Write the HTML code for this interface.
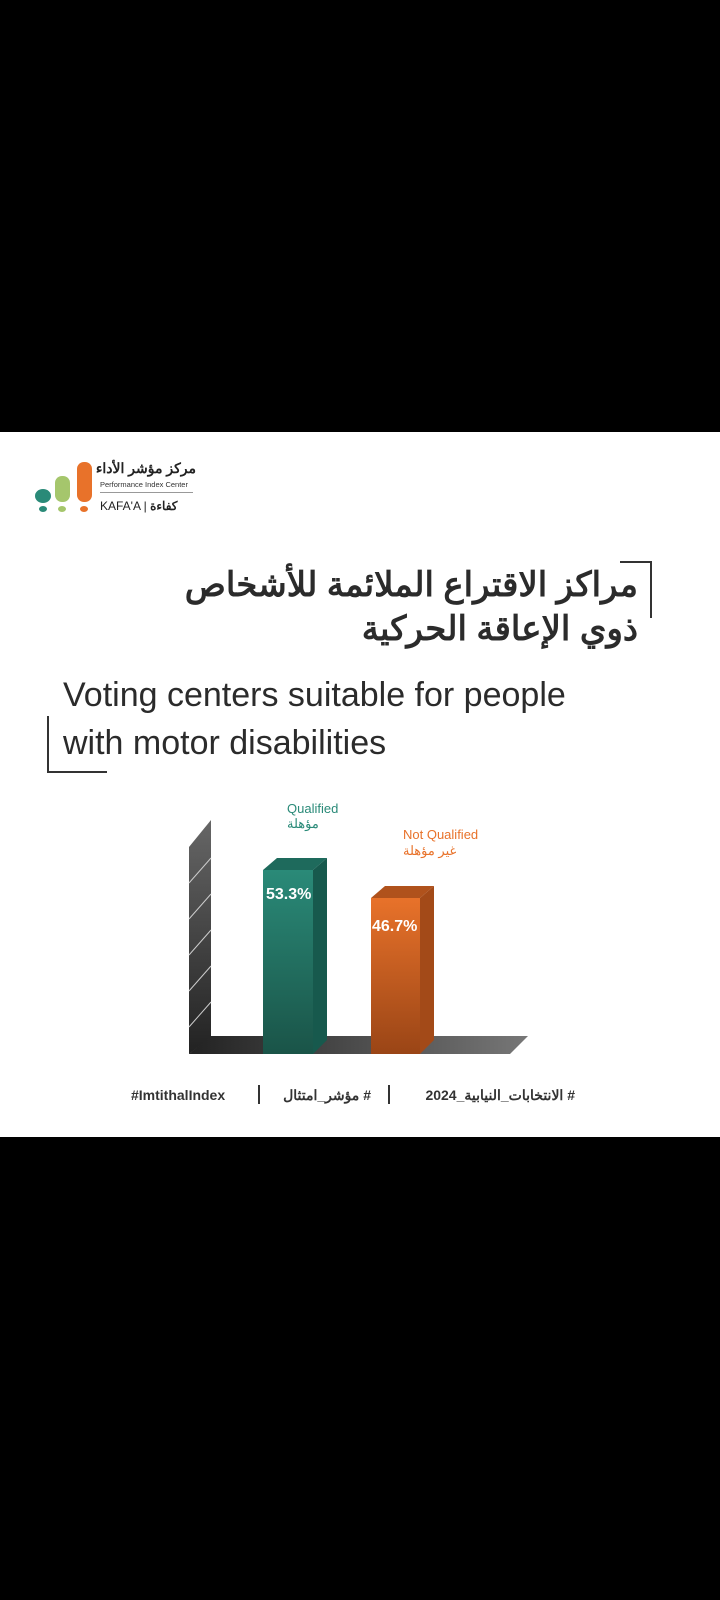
<!DOCTYPE html>
<html><head><meta charset="utf-8"><style>
body{margin:0;width:720px;height:1600px;background:#000;position:relative;overflow:hidden;font-family:"Liberation Sans","Noto Sans CJK SC",sans-serif}
.w{position:absolute;left:0;top:432px;width:720px;height:705px;background:#fff}
.a{position:absolute;white-space:nowrap}
</style></head><body>
<div class="w"></div>
<svg class="a" style="left:30px;top:458px" width="70" height="60">
<rect x="47" y="4" width="15" height="40" rx="7" fill="#e8722a"/>
<rect x="25" y="18" width="15" height="26" rx="7" fill="#a5c66c"/>
<ellipse cx="13" cy="38" rx="8" ry="7" fill="#2a8a78"/>
<ellipse cx="13" cy="51" rx="4" ry="3" fill="#2a8a78"/>
<ellipse cx="32" cy="51" rx="4" ry="3" fill="#a5c66c"/>
<ellipse cx="54" cy="51" rx="4" ry="3" fill="#e8722a"/>
</svg>
<div class="a" style="left:100px;top:460px;font-size:14px;font-weight:bold;color:#222;width:96px;text-align:right;direction:rtl">مركز مؤشر الأداء</div>
<div class="a" style="left:100px;top:480px;font-size:7.5px;color:#333">Performance Index Center</div>
<div class="a" style="left:100px;top:492px;width:93px;height:1px;background:#999"></div>
<div class="a" style="left:100px;top:499px;font-size:12px;color:#222">KAFA'A | <b>كفاءة</b></div>
<div class="a" style="right:82px;top:565px;font-size:34px;font-weight:bold;color:#2b2b2b;direction:rtl;text-align:right">مراكز الاقتراع الملائمة للأشخاص</div>
<div class="a" style="right:82px;top:609px;font-size:34px;font-weight:bold;color:#2b2b2b;direction:rtl;text-align:right">ذوي الإعاقة الحركية</div>
<div class="a" style="left:620px;top:561px;width:32px;height:2px;background:#333"></div>
<div class="a" style="left:650px;top:561px;width:2px;height:57px;background:#333"></div>
<div class="a" style="left:63px;top:676px;font-size:34px;color:#2b2b2b">Voting centers suitable for people</div>
<div class="a" style="left:63px;top:724px;font-size:34px;color:#2b2b2b">with motor disabilities</div>
<div class="a" style="left:47px;top:716px;width:2px;height:57px;background:#333"></div>
<div class="a" style="left:47px;top:771px;width:60px;height:2px;background:#333"></div>
<svg class="a" style="left:0;top:790px" width="720" height="280">
<defs>
<linearGradient id="wl" x1="0" y1="0" x2="0" y2="1"><stop offset="0" stop-color="#666"/><stop offset="1" stop-color="#222"/></linearGradient>
<linearGradient id="fl" x1="0" y1="0" x2="1" y2="0"><stop offset="0" stop-color="#222"/><stop offset="1" stop-color="#777"/></linearGradient>
<linearGradient id="tg" x1="0" y1="0" x2="0" y2="1"><stop offset="0" stop-color="#2a8a78"/><stop offset="1" stop-color="#1a5448"/></linearGradient>
<linearGradient id="og" x1="0" y1="0" x2="0" y2="1"><stop offset="0" stop-color="#e8722a"/><stop offset="1" stop-color="#9a4516"/></linearGradient>
</defs>
<polygon points="189,57 211,30 211,247 189,264" fill="url(#wl)"/>
<polygon points="189,264 211,246 528,246 510,264" fill="url(#fl)"/>
<g stroke="#ccc" stroke-width="1"><line x1="189" y1="93" x2="211" y2="68"/><line x1="189" y1="129" x2="211" y2="104"/><line x1="189" y1="165" x2="211" y2="140"/><line x1="189" y1="201" x2="211" y2="176"/><line x1="189" y1="237" x2="211" y2="212"/></g>
<polygon points="263,80 277,68 327,68 313,80" fill="#1e6a5c"/>
<rect x="263" y="80" width="50" height="184" fill="url(#tg)"/>
<polygon points="313,80 327,68 327,250 313,264" fill="#17594d"/>
<polygon points="371,108 385,96 434,96 420,108" fill="#b0521c"/>
<rect x="371" y="108" width="49" height="156" fill="url(#og)"/>
<polygon points="420,108 434,96 434,250 420,264" fill="#a34a18"/>
<text x="266" y="109" font-family="Liberation Sans" font-weight="bold" font-size="16" fill="#fff">53.3%</text>
<text x="372" y="141" font-family="Liberation Sans" font-weight="bold" font-size="16" fill="#fff">46.7%</text>
</svg>
<div class="a" style="left:287px;top:801px;font-size:13px;color:#2a8a78">Qualified</div>
<div class="a" style="left:287px;top:816px;font-size:13px;color:#2a8a78">مؤهلة</div>
<div class="a" style="left:403px;top:827px;font-size:13px;color:#e8722a">Not Qualified</div>
<div class="a" style="left:403px;top:843px;font-size:13px;color:#e8722a;direction:rtl">غير مؤهلة</div>
<div class="a" style="left:131px;top:1087px;font-size:14px;font-weight:bold;color:#333">#ImtithalIndex</div>
<div class="a" style="left:258px;top:1085px;width:2px;height:19px;background:#333"></div>
<div class="a" style="left:275px;top:1087px;font-size:14px;font-weight:bold;color:#333;direction:rtl;width:96px;text-align:right"># مؤشر_امتثال</div>
<div class="a" style="left:388px;top:1085px;width:2px;height:19px;background:#333"></div>
<div class="a" style="left:403px;top:1087px;font-size:14px;font-weight:bold;color:#333;direction:rtl;width:172px;text-align:right"># الانتخابات_النيابية_2024</div>
</body></html>
